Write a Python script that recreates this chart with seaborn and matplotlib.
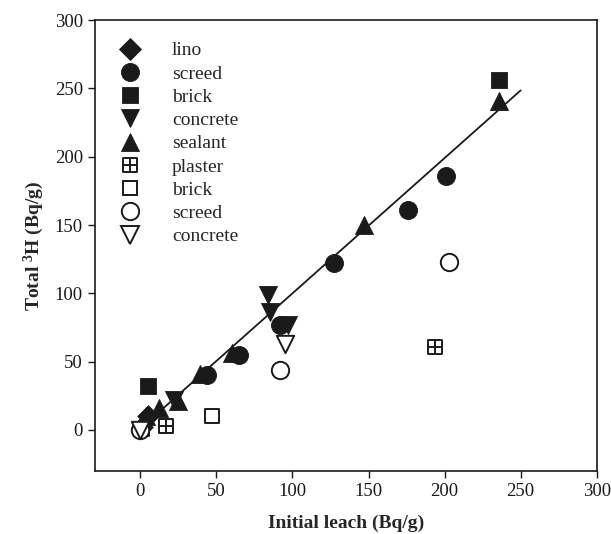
import numpy as np
import pandas as pd
import matplotlib
matplotlib.use("Agg")
import matplotlib.pyplot as plt
from matplotlib.path import Path
from matplotlib.lines import Line2D
import seaborn as sns

# ---- data ----
lino_x = [1, 5]
lino_y = [2, 10]
screed_x = [44, 65, 92, 127, 176, 201]
screed_y = [40, 55, 77, 122, 161, 186]
brick_x = [5, 236]
brick_y = [32, 256]
concrete_x = [22, 84, 85, 97]
concrete_y = [22, 99, 86, 77]
sealant_x = [4, 12, 25, 39, 60, 147, 236]
sealant_y = [10, 16, 21, 41, 56, 150, 241]
plaster_x = [17, 194]
plaster_y = [3, 61]
brick_open_x = [1, 47]
brick_open_y = [1, 10]
screed_open_x = [0, 92, 203]
screed_open_y = [0, 44, 123]
concrete_open_x = [0, 95]
concrete_open_y = [0, 63]

fit_x = [0, 250]
fit_slope = 0.99
fit_intercept = 1.0

x_ticks = [0, 50, 100, 150, 200, 250, 300]
y_ticks = [0, 50, 100, 150, 200, 250, 300]

# ---- style ----
sns.set_style("ticks")
plt.rcParams['font.family'] = ['Liberation Serif', 'DejaVu Serif']
plt.rcParams['mathtext.fontset'] = 'custom'
plt.rcParams['mathtext.rm'] = 'Liberation Serif'
plt.rcParams['mathtext.bf'] = 'Liberation Serif:bold'

# plaster marker: square with cross
verts = [(-1, -1), (1, -1), (1, 1), (-1, 1), (-1, -1),
         (0, -1), (0, 1), (-1, 0), (1, 0)]
codes = [Path.MOVETO, Path.LINETO, Path.LINETO, Path.LINETO, Path.CLOSEPOLY,
         Path.MOVETO, Path.LINETO, Path.MOVETO, Path.LINETO]
plaster_marker = Path(verts, codes)

INK = '#1a1a1a'

fig = plt.figure(figsize=(6.11, 5.34), dpi=100)
ax = fig.add_axes([0.155, 0.118, 0.8216, 0.8445])

fit_y = [fit_slope * v + fit_intercept for v in fit_x]
sns.lineplot(x=fit_x, y=fit_y, ax=ax, color=INK, linewidth=1.3, zorder=1)

series = [
    ("lino", lino_x, lino_y, 'D', True, 11),
    ("screed", screed_x, screed_y, 'o', True, 13),
    ("brick", brick_x, brick_y, 's', True, 11.5),
    ("concrete", concrete_x, concrete_y, 'v', True, 13),
    ("sealant", sealant_x, sealant_y, '^', True, 13),
    ("plaster", plaster_x, plaster_y, plaster_marker, False, 9.5),
    ("brick", brick_open_x, brick_open_y, 's', False, 10.5),
    ("screed", screed_open_x, screed_open_y, 'o', False, 12.5),
    ("concrete", concrete_open_x, concrete_open_y, 'v', False, 12.5),
]

handles = []
for i, (lab, xs, ys, mk, filled, ms) in enumerate(series):
    fc = INK if filled else 'white'
    lw = 0.6 if filled else 1.4
    sns.scatterplot(x=xs, y=ys, ax=ax, marker=mk, s=ms**2,
                    facecolor=fc, edgecolor=INK,
                    linewidth=lw, zorder=3 + i, legend=False)
    handles.append(Line2D([], [], linestyle='none', marker=mk, markersize=ms,
                          markerfacecolor=fc, markeredgecolor=INK,
                          markeredgewidth=lw, label=lab))

leg = ax.legend(handles=handles, loc='upper left', frameon=False,
                fontsize=14, handlelength=1.0, handletextpad=1.67,
                labelspacing=0.29, borderaxespad=0.0,
                bbox_to_anchor=(0.035, 0.969))

ax.set_xlim(-30, 300)
ax.set_ylim(-30, 300)
ax.set_xticks(x_ticks)
ax.set_yticks(y_ticks)
ax.tick_params(direction='out', length=5, width=1, labelsize=13.5, colors=INK)
for sp in ax.spines.values():
    sp.set_linewidth(1.2)
    sp.set_color(INK)
    sp.set_visible(True)

ax.set_xlabel("Initial leach (Bq/g)", fontsize=14, fontweight='bold', labelpad=11)
ax.set_ylabel(r"Total $\mathbf{^3}$H (Bq/g)", fontsize=14, fontweight='bold', labelpad=6)

fig.savefig("out.png", dpi=100)
